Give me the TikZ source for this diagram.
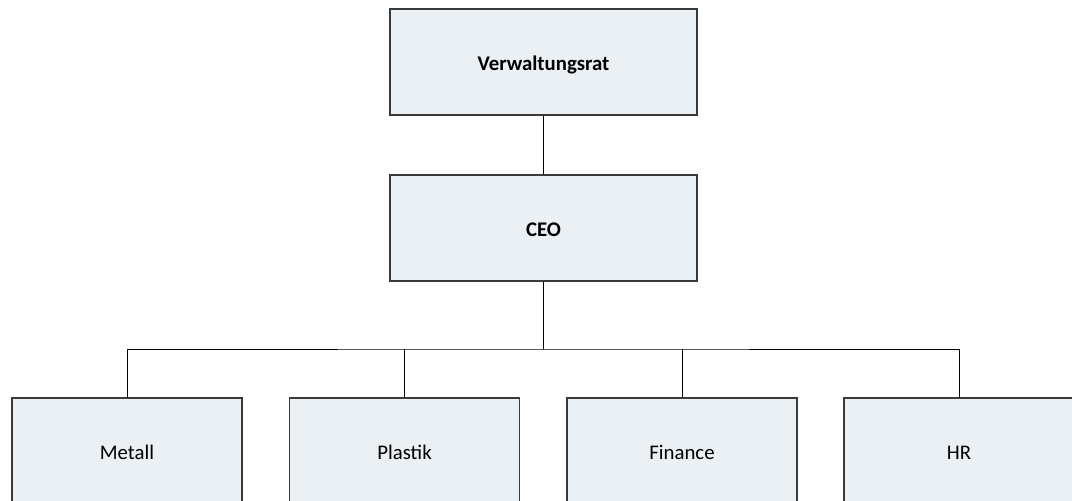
\documentclass[tikz,border=0pt]{standalone}
\usepackage{fontspec}
\setmainfont{Carlito}
\definecolor{boxfill}{HTML}{EBF0F5}
\definecolor{boxline}{HTML}{3A3A3A}
\begin{document}
\begin{tikzpicture}[x=1pt,y=-1pt,
  box/.style={draw=boxline, fill=boxfill, line width=1.1pt, inner sep=0pt,
    font=\fontsize{20.8}{25}\selectfont, text height=17.4pt, text depth=0pt},
  topbox/.style={box, minimum width=307pt, minimum height=106pt},
  unitbox/.style={box, minimum width=230pt, minimum height=106pt},
  conn/.style={draw=black, line width=1pt}]
\useasboundingbox (0,0) rectangle (1072,501);
\clip (0,0) rectangle (1072,501);
\node[topbox] (vr) at (543.5,62) {\textbf{Verwaltungsrat}};
\node[topbox] (ceo) at (543.5,228) {\textbf{CEO}};
\node[unitbox] (metall) at (127,451) {Metall};
\node[unitbox] (plastik) at (404.5,451) {Plastik};
\node[unitbox] (finance) at (682,451) {Finance};
\node[unitbox] (hr) at (959,451) {HR};
\coordinate (bar) at (543.5,349);
\draw[conn] (vr.south) -- (ceo.north);
\draw[conn] (ceo.south) -- (bar);
\draw[conn] (metall.north) |- (bar) -| (hr.north);
\draw[conn] (plastik.north) -- (plastik.north |- bar);
\draw[conn] (finance.north) -- (finance.north |- bar);
\end{tikzpicture}
\end{document}
